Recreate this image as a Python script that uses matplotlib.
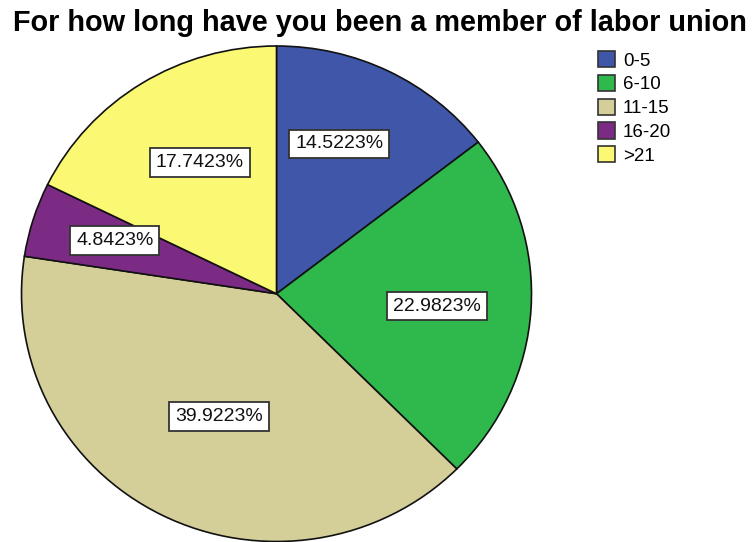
import matplotlib
matplotlib.use("Agg")
import matplotlib.pyplot as plt
import numpy as np

title = "For how long have you been a member of labor union"
categories = ["0-5", "6-10", "11-15", "16-20", ">21"]
values = [14.5223, 22.9823, 39.9223, 4.8423, 17.7423]
colors = ["#4057a9", "#2fb84b", "#d4cf99", "#7c2b85", "#fbf974"]
label_radii = [0.653, 0.632, 0.543, 0.669, 0.609]
label_angle_offsets = [4.0, -0.85, 2.4, -1.3, -2.4]

plt.rcParams['font.family'] = ['Liberation Sans', 'DejaVu Sans']

W, H = 752, 542
fig = plt.figure(figsize=(W / 100, H / 100), dpi=100)
ax = fig.add_axes([21.5 / W, 0.5 / H, 510 / W, 495.5 / H])

wedges, _ = ax.pie(values, colors=colors, startangle=90, counterclock=False,
                   wedgeprops=dict(edgecolor="#111111", linewidth=1.2))
ax.set_aspect('auto')
ax.set_xlim(-1, 1)
ax.set_ylim(-1, 1)
for w in wedges:
    w.set_clip_on(False)

for w, v, r, off in zip(wedges, values, label_radii, label_angle_offsets):
    ang = np.deg2rad((w.theta1 + w.theta2) / 2 + off)
    ax.text(r * np.cos(ang), r * np.sin(ang), f"{v:.4f}%", ha='center', va='center',
            fontsize=14, color='#111111',
            bbox=dict(boxstyle='square,pad=0.3', facecolor='white', edgecolor='#333333', linewidth=1.3))

fig.text(379.5 / W, 1 - 23 / H, title, ha='center', va='center', fontsize=20.8, fontweight='bold')

leg = fig.legend(wedges, categories, loc='upper left', bbox_to_anchor=(597.5 / W, 1 - 51 / H),
                 frameon=False, fontsize=13.5, handlelength=0.95, handleheight=0.95,
                 handletextpad=0.4, labelspacing=0.28, borderpad=0, borderaxespad=0)
for h in leg.legend_handles:
    h.set_edgecolor('#333333')
    h.set_linewidth(1.2)

fig.savefig("out.png", dpi=100)
